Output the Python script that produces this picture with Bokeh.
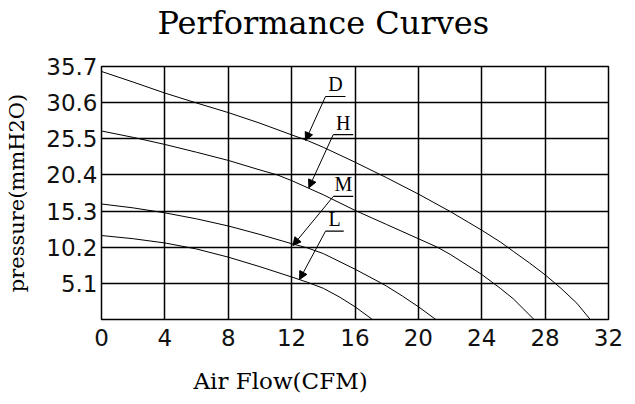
from bokeh.plotting import figure
from bokeh.models import FixedTicker, Arrow, NormalHead, Label, Range1d, Title
from bokeh.embed import file_html
from bokeh.resources import INLINE

# ---- data ----
x_ticks = [0, 4, 8, 12, 16, 20, 24, 28, 32]
y_ticks = [5.1, 10.2, 15.3, 20.4, 25.5, 30.6, 35.7]
y_tick_labels = ["5.1", "10.2", "15.3", "20.4", "25.5", "30.6", "35.7"]

d_x = [0, 2, 4, 6, 8, 10, 12, 13, 14, 16, 18, 20, 22, 24, 25.2, 26, 27, 28, 29, 30, 30.85]
d_y = [35.0, 33.5, 31.95, 30.55, 29.2, 27.7, 26.05, 25.25, 24.3, 22.2, 20.0, 17.7, 15.25, 12.6, 10.9, 9.6, 8.0, 6.3, 4.4, 2.3, 0.0]

h_x = [0, 2, 4, 6, 8, 10, 11.1, 12, 14, 16, 18, 20, 21.2, 22, 24, 25.2, 26, 27.3]
h_y = [26.6, 25.7, 24.7, 23.6, 22.45, 21.1, 20.4, 19.6, 17.6, 15.4, 13.4, 11.4, 10.2, 9.2, 6.35, 4.35, 2.9, 0.0]

m_x = [0, 2, 4, 6, 8, 10, 12, 13, 14, 16, 17.6, 18, 19, 20, 21.1]
m_y = [16.3, 15.75, 15.05, 14.2, 13.2, 12.0, 10.7, 10.1, 9.3, 7.1, 5.2, 4.7, 3.3, 1.8, 0.0]

l_x = [0, 2, 4, 6, 8, 10, 12, 13, 14, 15, 16, 17.1]
l_y = [11.85, 11.4, 10.8, 9.95, 8.8, 7.45, 6.0, 5.25, 4.4, 3.2, 1.8, 0.0]

ann_text = ["D", "H", "M", "L"]
ann_x0 = [14.14, 14.63, 14.63, 14.14]
ann_x1 = [15.40, 15.89, 15.89, 15.29]
ann_y = [31.47, 26.1, 17.36, 12.46]
tip_x = [12.88, 13.09, 12.08, 12.50]
tip_y = [25.26, 18.58, 10.44, 5.64]

title_text = "Performance Curves"
x_label_text = "Air Flow(CFM)"
y_label_text = "pressure(mmH2O)"

# ---- figure ----
p = figure(width=635, height=404, output_backend="svg", toolbar_location=None,
           title=None,
           x_range=Range1d(0, 32), y_range=Range1d(0, 35.7),
           min_border_left=101, min_border_right=27, min_border_top=66,
           min_border_bottom=85, background_fill_color="white",
           border_fill_color="white")

p.outline_line_color = "black"
p.outline_line_width = 1.5

p.xaxis.ticker = FixedTicker(ticks=x_ticks)
p.yaxis.ticker = FixedTicker(ticks=y_ticks)
p.xgrid.ticker = FixedTicker(ticks=x_ticks)
p.ygrid.ticker = FixedTicker(ticks=y_ticks)
p.yaxis.major_label_overrides = {v: s for v, s in zip(y_ticks, y_tick_labels)}

for ax in (p.xaxis, p.yaxis):
    ax.axis_line_color = None
    ax.major_tick_in = 0
    ax.major_tick_out = 0
    ax.minor_tick_in = 0
    ax.minor_tick_out = 0
    ax.major_label_text_font = "DejaVu Sans"
    ax.major_label_text_font_size = "23px"
    ax.major_label_text_color = "#111111"

p.xaxis.major_label_standoff = 9
p.yaxis.major_label_standoff = 4

p.yaxis.axis_label = y_label_text
p.yaxis.axis_label_text_font = "DejaVu Serif"
p.yaxis.axis_label_text_font_size = "21px"
p.yaxis.axis_label_text_font_style = "normal"
p.yaxis.axis_label_text_color = "black"
p.yaxis.axis_label_standoff = 14

# spacer panels + title panels (first added sits next to the frame)
p.add_layout(Title(text=" ", text_font_size="10px", standoff=12), "above")
p.add_layout(Title(text=title_text, align="left", offset=56, standoff=0,
                   text_font="DejaVu Serif", text_font_size="32px",
                   text_font_style="normal", text_color="black"), "above")
p.add_layout(Title(text=" ", text_font_size="10px", standoff=4), "below")
p.add_layout(Title(text=x_label_text, align="left", offset=92, standoff=0,
                   text_font="DejaVu Serif", text_font_size="23px",
                   text_font_style="normal", text_color="black"), "below")

p.grid.grid_line_color = "black"
p.grid.grid_line_width = 1.5
p.grid.grid_line_alpha = 1.0

for xs, ys in ((d_x, d_y), (h_x, h_y), (m_x, m_y), (l_x, l_y)):
    p.line(xs, ys, line_color="black", line_width=1)

p.segment(x0=ann_x0, y0=ann_y, x1=ann_x1, y1=ann_y, line_color="black", line_width=1.2)

for t, x0, x1, y, tx, ty in zip(ann_text, ann_x0, ann_x1, ann_y, tip_x, tip_y):
    p.add_layout(Label(x=(x0 + x1) / 2, y=y, text=t, text_align="center",
                       text_baseline="bottom", y_offset=1,
                       text_font="Liberation Serif", text_font_size="20px",
                       text_color="black"))
    p.add_layout(Arrow(x_start=x0, y_start=y, x_end=tx, y_end=ty,
                       line_color="black", line_width=1,
                       end=NormalHead(size=8, fill_color="black", line_color="black")))

open("out.html", "w").write(file_html(p, INLINE))
